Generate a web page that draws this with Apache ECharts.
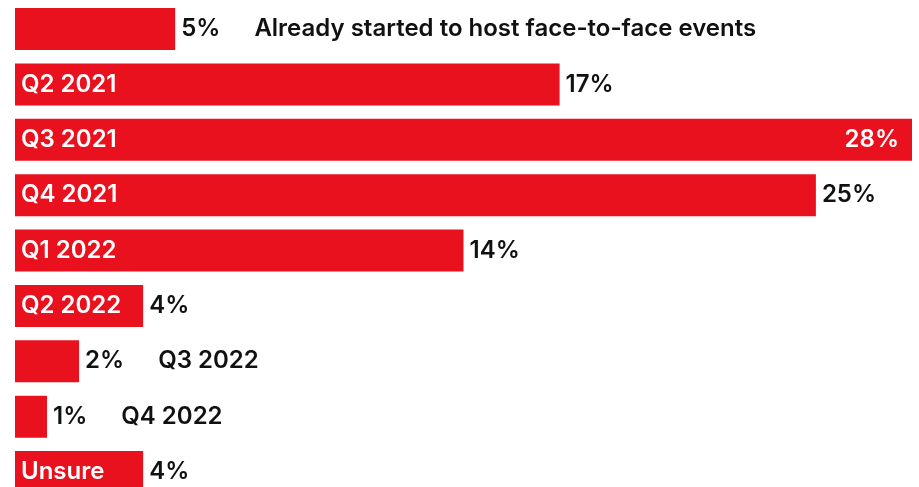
<!DOCTYPE html>
<html><head><meta charset="utf-8">
<script src="https://cdn.jsdelivr.net/npm/echarts@6/dist/echarts.min.js"></script>
<style>html,body{margin:0;padding:0;background:#fff;overflow:hidden}#c{width:919px;height:520px}</style>
</head><body><div id="c"></div>
<script>
const categories = ['Already started to host face-to-face events','Q2 2021','Q3 2021','Q4 2021','Q1 2022','Q2 2022','Q3 2022','Q4 2022','Unsure'];
const values = [5,17,28,25,14,4,2,1,4];
const nameInside = [false,true,true,true,true,true,false,false,true];
const valueInside = [false,false,true,false,false,false,false,false,false];

const RED = '#e9111e';
const FONT = 'Inter';
const FW = 600;
const FS = 24;
const chart = echarts.init(document.getElementById('c'));
const pitch = 55.375;
const gridTop = 29 - pitch/2;
chart.setOption({
  animation:false,
  grid:{left:15,right:7,top:gridTop,bottom:520-(gridTop+pitch*9),containLabel:false},
  xAxis:{type:'value',min:0,max:28,show:false},
  yAxis:{type:'category',data:categories,inverse:true,show:false},
  series:[
    {type:'bar',barWidth:42,itemStyle:{color:RED},
     data:values.map((v,i)=>({value:v,label:{show:nameInside[i]}})),
     label:{position:'insideLeft',distance:6,color:'#fff',fontFamily:FONT,fontWeight:FW,fontSize:FS,
       formatter:p=>categories[p.dataIndex]}},
    {type:'bar',barWidth:42,barGap:'-100%',itemStyle:{color:'rgba(0,0,0,0)'},
     data:values.map((v,i)=>({value:v,label:valueInside[i]?{position:'insideRight',distance:13,color:'#fff'}:{position:'right',distance:6,color:'#111'}})),
     label:{show:true,fontFamily:FONT,fontWeight:FW,fontSize:FS,
       formatter:p=>{const i=p.dataIndex;return nameInside[i]?'{v|'+values[i]+'%}':'{v|'+values[i]+'%}{c|'+categories[i]+'}';},
       rich:{v:{fontFamily:FONT,fontWeight:FW,fontSize:FS},c:{fontFamily:FONT,fontWeight:FW,fontSize:FS,padding:[0,0,0,34]}}}}
  ]
});
</script></body></html>
